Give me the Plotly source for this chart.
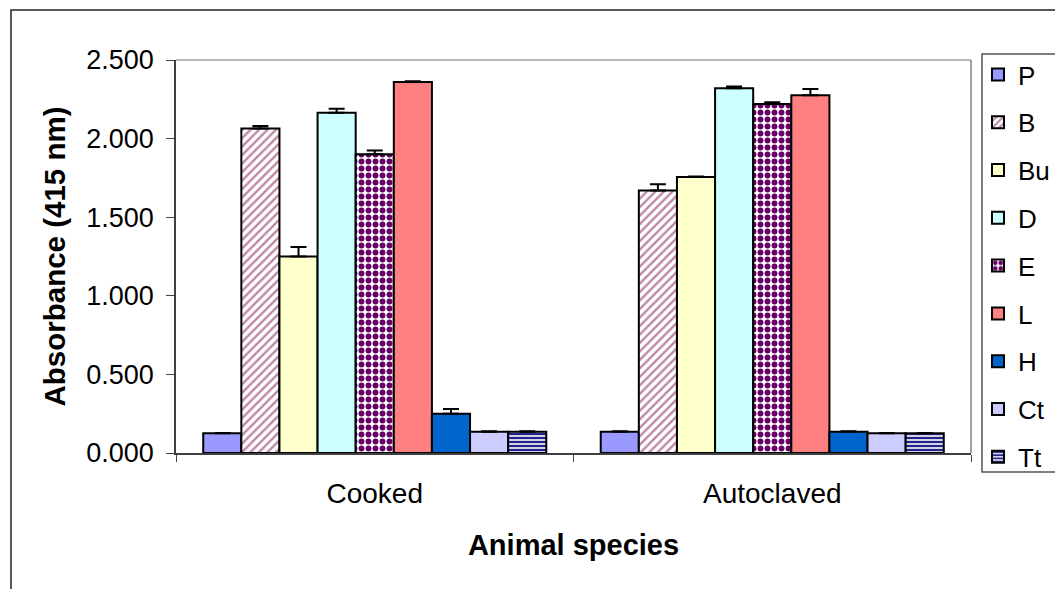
import plotly.graph_objects as go

categories = ["Cooked", "Autoclaved"]
series = ["P", "B", "Bu", "D", "E", "L", "H", "Ct", "Tt"]
cooked = [0.125, 2.065, 1.250, 2.165, 1.900, 2.360, 0.250, 0.135, 0.135]
cooked_err = [0.003, 0.015, 0.060, 0.025, 0.025, 0.005, 0.030, 0.003, 0.003]
autoclaved = [0.135, 1.670, 1.755, 2.320, 2.220, 2.275, 0.135, 0.125, 0.125]
autoclaved_err = [0.003, 0.040, 0.004, 0.012, 0.012, 0.040, 0.003, 0.003, 0.003]
y_ticks = [0.0, 0.5, 1.0, 1.5, 2.0, 2.5]

fills = ["#9999FF", "#FFFFFF", "#FFFFCC", "#CCFFFF", "#FFFFFF", "#FF8080", "#0066CC", "#CCCCFF", "#FFFFFF"]
patterns = [
    None,
    dict(shape="/", fgcolor="#BE86A6", bgcolor="#FFFFFF", size=6, solidity=0.4, fgopacity=1),
    None,
    None,
    dict(shape=".", fgcolor="#660066", bgcolor="#FFFFFF", size=7, solidity=0.55, fgopacity=1),
    None,
    None,
    None,
    dict(shape="-", fgcolor="#22228A", bgcolor="#FFFFFF", size=4, solidity=0.6, fgopacity=1),
]

FONT = "Liberation Sans, Arial, sans-serif"

W, H = 1055, 589
PL, PR, PT, PB = 176, 971, 60, 453
pw, ph = PR - PL, PB - PT


def px_x(x):
    return (x - PL) / pw


def px_y(y):
    return (PB - y) / ph


fig = go.Figure()
for i, name in enumerate(series):
    marker = dict(color=fills[i], line=dict(color="black", width=2))
    if patterns[i] is not None:
        marker["pattern"] = patterns[i]
    fig.add_trace(go.Bar(
        name=name,
        x=categories,
        y=[cooked[i], autoclaved[i]],
        error_y=dict(type="data", array=[cooked_err[i], autoclaved_err[i]],
                     symmetric=False, arrayminus=[0, 0],
                     color="black", thickness=2, width=8),
        marker=marker,
        legendgroup=name,
    ))

fig.update_layout(
    width=W, height=H,
    margin=dict(l=PL, r=W - PR, t=PT, b=H - PB, autoexpand=False),
    paper_bgcolor="white", plot_bgcolor="white",
    barmode="group", bargap=0.137, bargroupgap=0,
    font=dict(family=FONT, size=27, color="black"),
    showlegend=True,
    legend=dict(x=px_x(978), y=px_y(51), xanchor="left", yanchor="top",
                borderwidth=0, bgcolor="rgba(0,0,0,0)", maxheight=1,
                font=dict(size=26), tracegroupgap=11),
    xaxis=dict(
        showline=True, linecolor="#404040", linewidth=1.5,
        ticks="outside", ticklen=7, tickcolor="#404040", tickson="boundaries",
        showgrid=False, ticklabelstandoff=15,
        tickfont=dict(size=28),
        title=dict(text="<b>Animal species</b>", font=dict(size=29), standoff=26),
    ),
    yaxis=dict(
        range=[0, 2.5], tickvals=y_ticks, tickformat=".3f",
        showline=True, linecolor="#404040", linewidth=1.5,
        ticks="outside", ticklen=8, tickcolor="#404040",
        showgrid=False, zeroline=False, ticklabelstandoff=7,
        title=dict(text="<b>Absorbance (415 nm)</b>", font=dict(size=29.5), standoff=12),
    ),
    shapes=[
        dict(type="line", xref="paper", yref="paper", x0=0, x1=1, y0=1, y1=1,
             line=dict(color="#A0A0A0", width=1.5)),
        dict(type="line", xref="paper", yref="paper", x0=1, x1=1, y0=0, y1=1,
             line=dict(color="#808080", width=1.5)),
        # outer chart frame
        dict(type="rect", xref="paper", yref="paper",
             x0=px_x(11), x1=px_x(1200), y0=px_y(700), y1=px_y(10),
             line=dict(color="#222222", width=1.5), layer="below"),
        # legend frame
        dict(type="rect", xref="paper", yref="paper",
             x0=px_x(982), x1=px_x(1200), y0=px_y(472), y1=px_y(54),
             line=dict(color="#555555", width=1.5), layer="below"),
    ],
)

fig.write_html(
    "out.html",
    config={"displayModeBar": False},
    post_script="document.body.style.margin='0';document.body.style.overflow='hidden';",
)
